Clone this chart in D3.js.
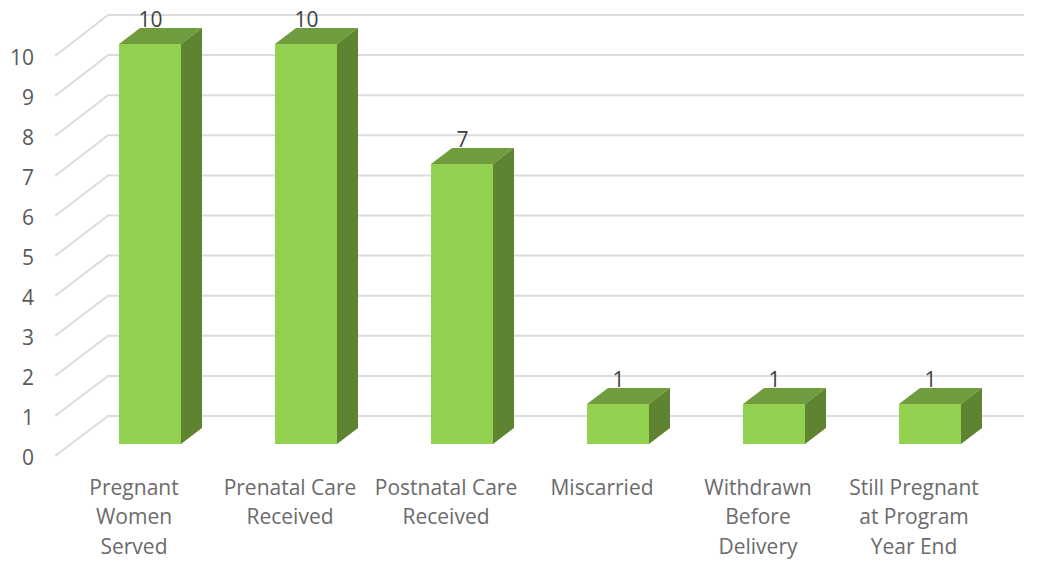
<!DOCTYPE html>
<html>
<head>
<meta charset="utf-8">
<script src="https://cdn.jsdelivr.net/npm/d3@7"></script>
<style>
html,body{margin:0;padding:0;background:#fff;}
svg{display:block;}
text{font-family:"Open Sans","Noto Sans",sans-serif;}
</style>
</head>
<body>
<svg id="chart" width="1039" height="561"></svg>
<script>
const categories = [
  ["Pregnant","Women","Served"],
  ["Prenatal Care","Received"],
  ["Postnatal Care","Received"],
  ["Miscarried"],
  ["Withdrawn","Before","Delivery"],
  ["Still Pregnant","at Program","Year End"]
];
const values = [10,10,7,1,1,1];
const yTicks = [0,1,2,3,4,5,6,7,8,9,10];

const svg = d3.select("#chart");
const W = 156*6;
const x = d3.scaleBand().domain(d3.range(categories.length)).range([72,72+W]);
x.paddingInner(94/156).paddingOuter(47/156);
const yFront = d3.scaleLinear().domain([0,10]).range([444,44]);
const yBack  = d3.scaleLinear().domain([0,10]).range([416,15]);
const yWall  = d3.scaleLinear().domain([0,10]).range([456,56]);
const backLeft = 108, backRight = 1024, wallLeft = 55;
const dx = 21, dy = -16;

const grid = svg.append("g").attr("fill","none").attr("stroke","#dcdcdc").attr("stroke-width",2);
grid.selectAll("path").data(yTicks).join("path")
  .attr("d",d=>d3.line()([[wallLeft,yWall(d)],[backLeft,yBack(d)],[backRight,yBack(d)]]));

const axisG = svg.append("g")
  .attr("transform","translate(34,0)")
  .call(d3.axisLeft(yWall).tickValues(yTicks).tickSize(0).tickPadding(0).tickFormat(d3.format("d")));
axisG.select(".domain").remove();
axisG.selectAll("text").attr("fill","#595959").style("font-size","21px").style("font-family",'"Open Sans",sans-serif').attr("dy","0.41em");

const bars = svg.append("g").selectAll("g").data(values).join("g");
const bw = x.bandwidth();
bars.append("path").attr("fill","#6f9c3d")
  .attr("d",(d,i)=>{const l=x(i),t=yFront(d);return d3.line()([[l,t],[l+dx,t+dy],[l+bw+dx,t+dy],[l+bw,t]])+"Z";});
bars.append("path").attr("fill","#5e8431")
  .attr("d",(d,i)=>{const r=x(i)+bw,t=yFront(d),b=yFront(0);return d3.line()([[r,t],[r+dx,t+dy],[r+dx,b+dy],[r,b]])+"Z";});
bars.append("rect").attr("fill","#92d050")
  .attr("x",(d,i)=>x(i)).attr("y",d=>yFront(d))
  .attr("width",bw).attr("height",d=>yFront(0)-yFront(d));

bars.append("text").text(d=>d)
  .attr("x",(d,i)=>x(i)+bw/2+0.5)
  .attr("y",d=>yFront(d)+dy-1)
  .attr("text-anchor","middle").attr("fill","#404040").style("font-size","21px");

const labels = svg.append("g").selectAll("text").data(categories).join("text")
  .attr("text-anchor","middle").attr("fill","#6b6b6b").style("font-size","21px")
  .attr("transform",(d,i)=>`translate(${x(i)+bw/2-16},494.5)`);
labels.selectAll("tspan").data(d=>d).join("tspan")
  .attr("x",0).attr("y",(d,i)=>i*29.6).text(d=>d);
</script>
</body>
</html>
